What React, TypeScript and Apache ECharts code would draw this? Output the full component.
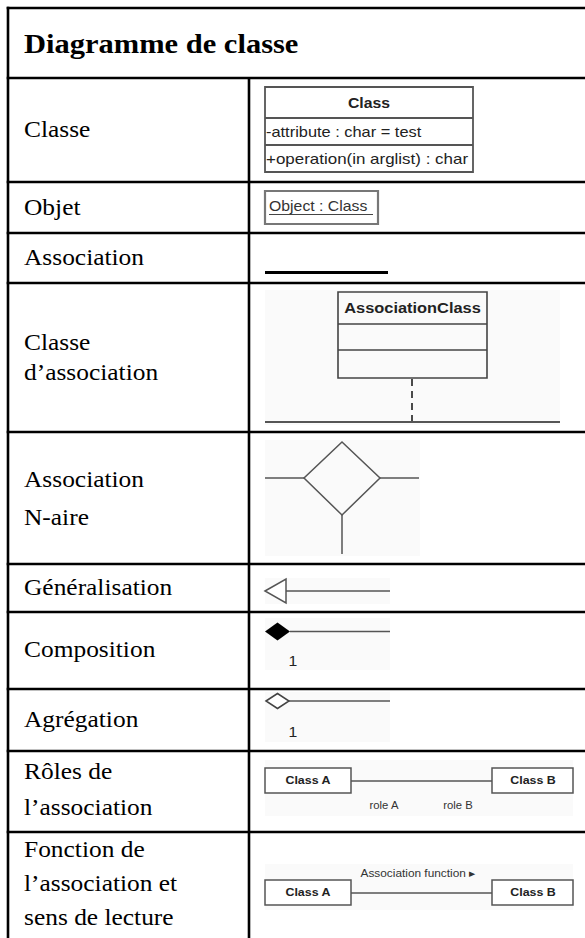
import React, { useEffect, useRef } from "react";
import * as echarts from "echarts";

// ---- Data (texts of the table) ----
const TITLE = "Diagramme de classe";
const ROW_LABELS: string[][] = [
  ["Classe"],
  ["Objet"],
  ["Association"],
  ["Classe", "d’association"],
  ["Association", "N-aire"],
  ["Généralisation"],
  ["Composition"],
  ["Agrégation"],
  ["Rôles de", "l’association"],
  ["Fonction de", "l’association et", "sens de lecture"],
];
const CLASS_NAME = "Class";
const CLASS_ATTR = "-attribute : char = test";
const CLASS_OP = "+operation(in arglist) : char";
const OBJECT_LABEL = "Object : Class";
const ASSOC_CLASS = "AssociationClass";
const MULTIPLICITY = "1";
const CLASS_A = "Class A";
const CLASS_B = "Class B";
const ROLES = ["role A", "role B"];
const ASSOC_FUNCTION = "Association function ▸";

const SX = 1.13;
const SERIF = "'Liberation Serif', 'Times New Roman', serif";
const SANS = "'Liberation Sans', Arial, sans-serif";

function txt(
  x: number,
  y: number,
  text: string,
  fontSize: number,
  opts: { family?: string; weight?: string; align?: string; fill?: string; sx?: number } = {}
) {
  const align = opts.align || "left";
  return {
    type: "text",
    x,
    y,
    scaleX: opts.sx ?? SX,
    silent: true,
    style: {
      text,
      fontSize,
      fontFamily: opts.family || SANS,
      fontWeight: opts.weight || "normal",
      fill: opts.fill || "#000",
      textAlign: align,
      align,
      textVerticalAlign: "middle",
      verticalAlign: "middle",
    },
  };
}

function line(x1: number, y1: number, x2: number, y2: number, stroke: string, lineWidth: number, dash?: number[]) {
  return {
    type: "line",
    silent: true,
    shape: { x1, y1, x2, y2 },
    style: { stroke, lineWidth, lineDash: dash || null },
  };
}

function rect(x: number, y: number, width: number, height: number, style: any) {
  return { type: "rect", silent: true, shape: { x, y, width, height }, style };
}

function poly(points: number[][], style: any) {
  return { type: "polygon", silent: true, shape: { points }, style };
}

export default function App() {
  const ref = useRef<HTMLDivElement>(null);

  useEffect(() => {
    if (!ref.current) return;
    const chart = echarts.init(ref.current, null, { renderer: "svg" });

    const W = 585;
    const colX = 249;
    const left = 8;
    const rowBounds = [8, 78, 182, 233, 283, 432, 564, 612, 689, 751, 832];
    const labelYs: number[][] = [
      [130],
      [208],
      [258],
      [343, 373],
      [480, 518],
      [588],
      [650],
      [720],
      [772, 808],
      [850, 884, 918],
    ];
    const G = "#555";
    const BG = "#fafafa";
    const els: any[] = [];

    // light image backgrounds
    els.push(rect(265, 290, 295, 135, { fill: BG }));
    els.push(rect(265, 440, 155, 116, { fill: BG }));
    els.push(rect(265, 578, 125, 26, { fill: BG }));
    els.push(rect(265, 618, 125, 52, { fill: BG }));
    els.push(rect(265, 692, 125, 50, { fill: BG }));
    els.push(rect(265, 760, 308, 56, { fill: BG }));
    els.push(rect(265, 864, 308, 46, { fill: BG }));

    // table grid
    const LW = 2.6;
    rowBounds.forEach((y) => els.push(line(left - 1.3, y, W, y, "#000", LW)));
    els.push(line(left, 6.7, left, 938, "#000", LW));
    els.push(line(colX, rowBounds[1], colX, 938, "#000", LW));

    // title & labels
    els.push(txt(24, 44, TITLE, 27, { family: SERIF, weight: "bold" }));
    ROW_LABELS.forEach((lines, i) => {
      lines.forEach((l, j) => els.push(txt(24, labelYs[i][j], l, 22.5, { family: SERIF })));
    });

    // Classe
    els.push(rect(265, 87, 208, 85, { fill: "#fff", stroke: G, lineWidth: 1.8 }));
    els.push(line(265, 118, 473, 118, G, 1.8));
    els.push(line(265, 145, 473, 145, G, 1.8));
    els.push(txt(369, 103, CLASS_NAME, 14, { weight: "bold", align: "center", fill: "#222" }));
    els.push(txt(266, 131.5, CLASS_ATTR, 14.5, { fill: "#222" }));
    els.push(txt(266, 158.5, CLASS_OP, 15, { fill: "#222" }));

    // Objet
    els.push(rect(265, 191, 113, 33, { fill: "#fff", stroke: "#777", lineWidth: 2.2 }));
    els.push(txt(269, 206, OBJECT_LABEL, 14, { fill: "#333" }));
    els.push(line(269, 214.5, 373, 214.5, "#444", 1));

    // Association
    els.push(line(265, 272.5, 388, 272.5, "#000", 3));

    // Classe d'association
    els.push(rect(338, 292, 149, 86, { fill: BG, stroke: "#444", lineWidth: 1.6 }));
    els.push(line(338, 324, 487, 324, "#444", 1.6));
    els.push(line(338, 350, 487, 350, "#444", 1.6));
    els.push(txt(412.5, 308, ASSOC_CLASS, 14.5, { weight: "bold", align: "center", fill: "#222" }));
    els.push(line(412, 379, 412, 422, "#111", 1.5, [7, 5]));
    els.push(line(265, 422, 560, 422, G, 2));

    // Association N-aire
    els.push(poly([[342, 442], [380, 478], [342, 515], [304, 478]], { fill: "none", stroke: G, lineWidth: 1.5 }));
    els.push(line(265, 478, 304, 478, G, 1.5));
    els.push(line(380, 478, 419, 478, G, 1.5));
    els.push(line(342, 515, 342, 554, G, 1.5));

    // Généralisation
    els.push(poly([[265, 591], [286, 579], [286, 603]], { fill: "#fff", stroke: G, lineWidth: 1.5 }));
    els.push(line(286, 591, 390, 591, G, 1.5));

    // Composition
    els.push(poly([[265, 631.5], [277.5, 622.5], [290, 631.5], [277.5, 640.5]], { fill: "#000" }));
    els.push(line(290, 631.5, 390, 631.5, G, 1.5));
    els.push(txt(293, 661, MULTIPLICITY, 14, { align: "center", fill: "#222" }));

    // Agrégation
    els.push(poly([[266, 701], [277.5, 693.5], [289, 701], [277.5, 708.5]], { fill: "#fff", stroke: "#444", lineWidth: 1.5 }));
    els.push(line(289, 701, 390, 701, G, 1.5));
    els.push(txt(293, 732, MULTIPLICITY, 14, { align: "center", fill: "#222" }));

    // Rôles de l'association / Fonction de l'association
    const boxes = (y: number) => {
      els.push(rect(265, y, 86, 25, { fill: "#fff", stroke: G, lineWidth: 1.5 }));
      els.push(rect(492, y, 81, 25, { fill: "#fff", stroke: G, lineWidth: 1.5 }));
      els.push(line(351, y + 13, 492, y + 13, G, 1.3));
      els.push(txt(308, y + 12, CLASS_A, 11, { weight: "bold", align: "center", fill: "#222" }));
      els.push(txt(533, y + 12, CLASS_B, 11, { weight: "bold", align: "center", fill: "#222" }));
    };
    boxes(768);
    els.push(txt(384, 805, ROLES[0], 10, { align: "center", fill: "#333" }));
    els.push(txt(458, 805, ROLES[1], 10, { align: "center", fill: "#333" }));

    boxes(880);
    els.push(txt(418, 873, ASSOC_FUNCTION, 10.5, { align: "center", fill: "#333" }));

    chart.setOption({
      animation: false,
      backgroundColor: "#fff",
      graphic: { elements: els },
    });

    return () => chart.dispose();
  }, []);

  return (
    <div
      ref={ref}
      style={{ position: "fixed", left: 0, top: 0, width: 585, height: 938, background: "#fff" }}
    />
  );
}
